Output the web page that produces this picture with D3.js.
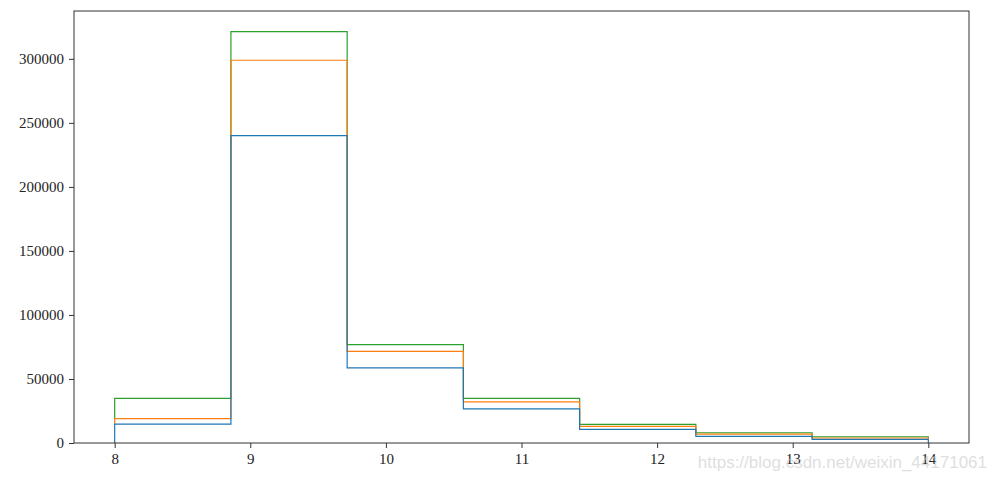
<!DOCTYPE html>
<html>
<head>
<meta charset="utf-8">
<script src="https://cdn.jsdelivr.net/npm/d3@7"></script>
<style>
  html, body { margin: 0; padding: 0; background: #fff; }
</style>
</head>
<body>
<div id="chart"></div>
<script>
// bin edges of the histogram (7 equal bins from 8 to 14)
var binStart = 8
var binEnd = 14
var binCount = 7

// per-series counts in each bin (stacked on top of each other)
var seriesNames = ['a', 'b', 'c']
var seriesColors = ['#1f77b4', '#ff7f0e', '#2ca02c']
var countsA = [14800, 240000, 58600, 26600, 10600, 5200, 2800]
var countsB = [4200, 58900, 13000, 5500, 2400, 1800, 1100]
var countsC = [15900, 22400, 5200, 2800, 1500, 1000, 1000]

var xTicks = [8, 9, 10, 11, 12, 13, 14]
var yTicks = [0, 50000, 100000, 150000, 200000, 250000, 300000]

/**
 * 常量
 */
var width = 998
var height = 480
var margin = { top: 11, right: 29, bottom: 37, left: 74 }
var innerW = width - margin.left - margin.right
var innerH = height - margin.top - margin.bottom

var edges = d3.range(binCount + 1).map(i => binStart + i * (binEnd - binStart) / binCount)

// stacked tops: cumulative sums
var allCounts = [countsA, countsB, countsC]
var tops = []
allCounts.forEach((counts, s) => {
  tops.push(counts.map((v, i) => v + (s > 0 ? tops[s - 1][i] : 0)))
})
var bottoms = tops.map((t, s) => s > 0 ? tops[s - 1] : t.map(() => 0))

/**
 * 比例尺 (matplotlib-like 5% margins)
 */
var xPad = (binEnd - binStart) * 0.05
var x = d3.scaleLinear()
  .domain([binStart - xPad, binEnd + xPad])
  .range([0, innerW])

var yMax = d3.max(tops[tops.length - 1])
var y = d3.scaleLinear()
  .domain([0, yMax * 1.05])
  .range([innerH, 0])

var svg = d3.select('#chart')
  .append('svg')
  .attr('width', width)
  .attr('height', height)

var g = svg.append('g')
  .attr('transform', `translate(${margin.left}, ${margin.top})`)

/**
 * 阶梯线 — drawn in reverse so lower series sit on top
 */
var line = d3.line()
  .x(d => x(d[0]))
  .y(d => y(d[1]))

d3.range(seriesNames.length).reverse().forEach(s => {
  var pts = [[edges[0], bottoms[s][0]]]
  tops[s].forEach((v, i) => {
    pts.push([edges[i], v])
    pts.push([edges[i + 1], v])
  })
  pts.push([edges[binCount], bottoms[s][binCount - 1]])

  g.append('path')
    .attr('d', line(pts))
    .attr('fill', 'none')
    .attr('stroke', seriesColors[s])
    .attr('stroke-width', 1.2)
})

/**
 * 坐标轴
 */
var fontFamily = '"Liberation Serif", "DejaVu Serif", serif'

var xAxis = g.append('g')
  .attr('transform', `translate(0, ${innerH})`)
  .call(d3.axisBottom(x).tickValues(xTicks).tickSize(5).tickPadding(5).tickFormat(d3.format('d')))
var yAxis = g.append('g')
  .call(d3.axisLeft(y).tickValues(yTicks).tickSize(5).tickPadding(5).tickFormat(d3.format('d')))

;[xAxis, yAxis].forEach(ax => {
  ax.select('.domain').remove()
  ax.selectAll('line').attr('stroke', '#333').attr('stroke-width', 1)
  ax.selectAll('text')
    .attr('fill', '#222')
    .attr('font-family', fontFamily)
    .attr('font-size', '15px')
})

// 边框
g.append('rect')
  .attr('x', 0)
  .attr('y', 0)
  .attr('width', innerW)
  .attr('height', innerH)
  .attr('fill', 'none')
  .attr('stroke', '#333')
  .attr('stroke-width', 1)

// 水印
svg.append('text')
  .text('https://blog.csdn.net/weixin_44171061')
  .attr('x', 987)
  .attr('y', 468)
  .attr('text-anchor', 'end')
  .attr('font-family', '"Liberation Sans", Arial, sans-serif')
  .attr('font-size', '17px')
  .attr('fill', 'rgba(200,200,200,0.6)')
</script>
</body>
</html>
